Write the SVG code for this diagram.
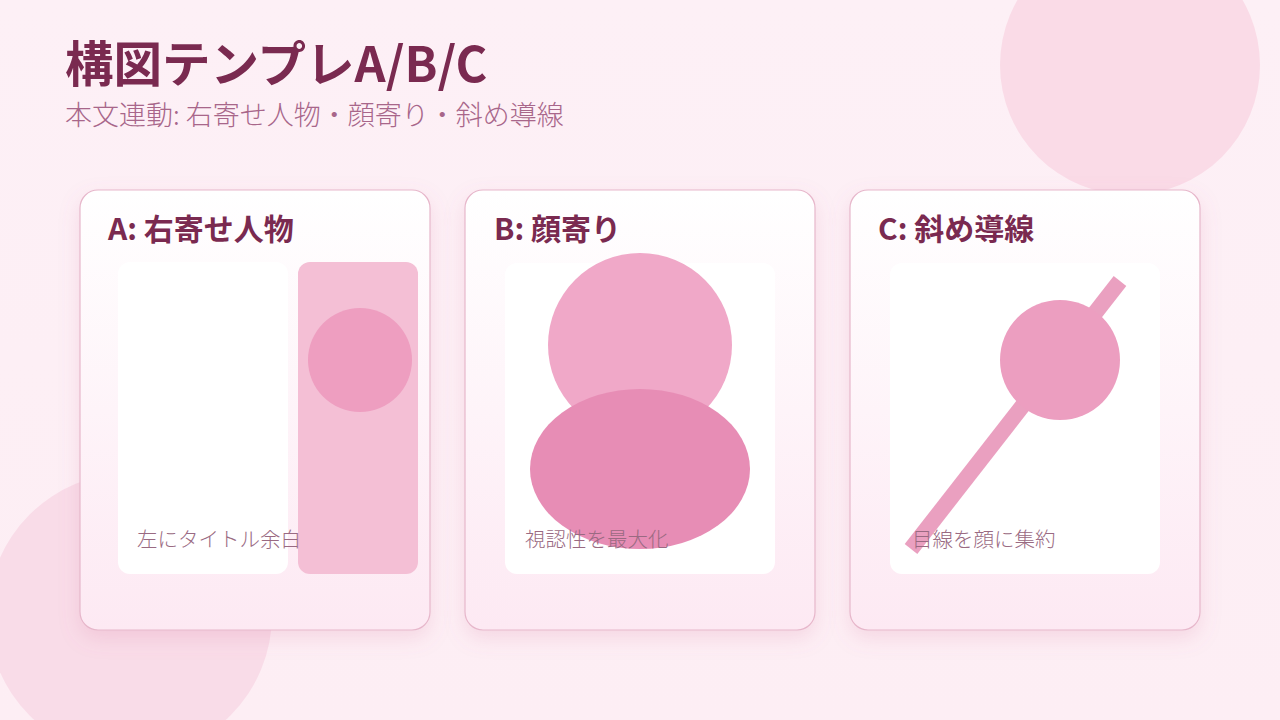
<svg xmlns="http://www.w3.org/2000/svg" width="1280" height="720" viewBox="0 0 1280 720">
<defs>
<linearGradient id="bg" x1="0" y1="0" x2="0" y2="1">
<stop offset="0" stop-color="#fdf0f6"/>
<stop offset="1" stop-color="#fdeef4"/>
</linearGradient>
<linearGradient id="card" x1="0" y1="0" x2="0" y2="1">
<stop offset="0" stop-color="#ffffff"/>
<stop offset="1" stop-color="#fde9f3"/>
</linearGradient>
<filter id="sh" x="-20%" y="-20%" width="140%" height="140%">
<feDropShadow dx="0" dy="8" stdDeviation="10" flood-color="#d06a98" flood-opacity="0.18"/>
</filter>
<style>
.card{fill:url(#card);stroke:#e7b7cb;stroke-width:1.2;filter:url(#sh)}
.inner{fill:#ffffff}
.ct{font-family:"Noto Sans CJK JP","Noto Sans",sans-serif;font-weight:700;font-size:30px;fill:#7a2a50}
.cap{font-family:"Noto Sans CJK JP","Noto Sans",sans-serif;font-weight:300;font-size:20.5px;fill:#9a6a82}
</style>
</defs>
<rect width="1280" height="720" fill="url(#bg)"/>
<circle cx="1130" cy="65" r="130" fill="#fadbe7"/>
<circle cx="130" cy="615" r="142" fill="#f9dce8"/>
<text x="65" y="82" font-family="'Noto Sans CJK JP','Noto Sans',sans-serif" font-weight="700" font-size="48.5" fill="#7a2a50">構図テンプレA/B/C</text>
<text x="65" y="125" font-family="'Noto Sans CJK JP','Noto Sans',sans-serif" font-weight="300" font-size="27" fill="#a8668a">本文連動: 右寄せ人物・顔寄り・斜め導線</text>
<g id="cardA">
<rect class="card" x="80" y="190" width="350" height="440" rx="18"/>
<text class="ct" x="108" y="240">A: 右寄せ人物</text>
<rect class="inner" x="118" y="262" width="170" height="312" rx="12"/>
<rect x="298" y="262" width="120" height="312" rx="12" fill="#f4bfd5"/>
<circle cx="360" cy="360" r="52" fill="#ee9ec0"/>
<text class="cap" x="137" y="547">左にタイトル余白</text>
</g>
<g id="cardB">
<rect class="card" x="465" y="190" width="350" height="440" rx="18"/>
<text class="ct" x="494" y="240">B: 顔寄り</text>
<rect class="inner" x="505" y="263" width="270" height="311" rx="12"/>
<circle cx="640" cy="345" r="92" fill="#f0a8c8"/>
<ellipse cx="640" cy="469" rx="110" ry="80" fill="#e78db5"/>
<text class="cap" x="525" y="547">視認性を最大化</text>
</g>
<g id="cardC">
<rect class="card" x="850" y="190" width="350" height="440" rx="18"/>
<text class="ct" x="878" y="240">C: 斜め導線</text>
<rect class="inner" x="890" y="263" width="270" height="311" rx="12"/>
<line x1="911" y1="549" x2="1120" y2="281" stroke="#eaa0c0" stroke-width="16"/>
<circle cx="1060" cy="360" r="60" fill="#ec9ec0"/>
<text class="cap" x="912" y="547">目線を顔に集約</text>
</g>
<g id="connectors"/>
</svg>
